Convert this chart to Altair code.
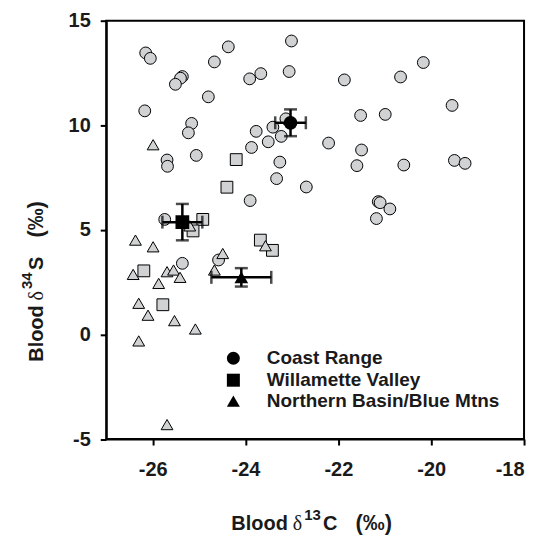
import altair as alt
import pandas as pd

groups = ["Coast Range", "Willamette Valley", "Northern Basin/Blue Mtns"]
shapes = ["circle", "square", "triangle-up"]

cr_x = [-26.15, -26.05, -24.37, -23.01, -24.67, -25.36, -25.40, -25.51, -23.91, -23.67,
        -23.06, -21.87, -20.66, -20.17, -24.80, -26.17, -21.52, -20.99, -19.55, -25.16,
        -25.23, -23.13, -23.41, -23.77, -23.23, -23.51, -23.87, -22.21, -21.50, -25.06,
        -25.69, -25.68, -23.26, -21.60, -20.59, -19.50, -19.27, -23.33, -22.69, -23.90,
        -21.14, -21.10, -20.89, -21.18, -25.74, -25.36, -24.58]
cr_y = [13.46, 13.20, 13.75, 14.03, 13.03, 12.33, 12.25, 11.96, 12.22, 12.47,
        12.57, 12.17, 12.31, 13.00, 11.36, 10.69, 10.47, 10.52, 10.95, 10.09,
        9.64, 10.31, 9.91, 9.71, 9.47, 9.21, 8.94, 9.15, 8.82, 8.56,
        8.34, 8.04, 8.24, 8.07, 8.10, 8.32, 8.18, 7.45, 7.05, 6.40,
        6.35, 6.30, 6.00, 5.54, 5.50, 3.40, 3.56]

wv_x = [-24.20, -24.40, -24.92, -25.13, -23.68, -23.42, -26.19, -25.78]
wv_y = [8.36, 7.04, 5.50, 4.95, 4.51, 4.02, 3.04, 1.42]

nb_x = [-25.99, -26.37, -25.99, -23.57, -24.49, -26.42, -25.69, -25.55, -25.41, -24.67,
        -25.87, -26.30, -26.10, -25.53, -25.08, -26.30, -25.69, -25.20]
nb_y = [9.07, 4.51, 4.19, 4.24, 3.87, 2.87, 3.00, 3.08, 2.73, 3.08,
        2.44, 1.49, 0.92, 0.66, 0.26, -0.31, -4.31, 5.19]

mean_x = [-23.03, -25.36, -24.09]
mean_y = [10.12, 5.37, 2.73]
sd_x = [0.33, 0.43, 0.645]
sd_y = [0.64, 0.87, 0.44]

x_ticks = [-26, -24, -22, -20, -18]
y_ticks = [-5, 0, 5, 10, 15]

# axis title pieces: word, delta, superscript, element, unit
x_title_parts = ["Blood", "δ", "13", "C", "(‰)"]
y_title_parts = ["Blood", "δ", "34", "S", "(‰)"]

rows = []
for g, xs, ys in zip(groups, [cr_x, wv_x, nb_x], [cr_y, wv_y, nb_y]):
    for a, b in zip(xs, ys):
        rows.append({"group": g, "x": a, "y": b})
pts = pd.DataFrame(rows)

means = pd.DataFrame({
    "group": groups, "x": mean_x, "y": mean_y,
    "xlo": [m - s for m, s in zip(mean_x, sd_x)],
    "xhi": [m + s for m, s in zip(mean_x, sd_x)],
    "ylo": [m - s for m, s in zip(mean_y, sd_y)],
    "yhi": [m + s for m, s in zip(mean_y, sd_y)],
})

FONT = "Liberation Sans"
SERIF = "Liberation Serif"
INK = "#1a1a1a"

xscale = alt.Scale(domain=[-27, -18], zero=False, nice=False)
yscale = alt.Scale(domain=[-5, 15], zero=False, nice=False)

xaxis = alt.Axis(values=x_ticks, title=None, labelPadding=15, labelExpr="'' + datum.value")
yaxis = alt.Axis(values=y_ticks, title=None, labelPadding=10, labelExpr="'' + datum.value")

shape_scale = alt.Scale(domain=groups, range=shapes)

points = alt.Chart(pts).mark_point(
    filled=True, fill="#d0d2d4", stroke="black", strokeWidth=1, size=140, opacity=1
).encode(
    x=alt.X("x:Q", scale=xscale, axis=xaxis),
    y=alt.Y("y:Q", scale=yscale, axis=yaxis),
    shape=alt.Shape("group:N", scale=shape_scale, legend=None),
)

ebar_v = alt.Chart(means).mark_errorbar(
    ticks={"size": 13, "thickness": 2.5, "color": "black"}, thickness=2.5, color="black"
).encode(
    x=alt.X("x:Q", scale=xscale, axis=xaxis),
    y=alt.Y("ylo:Q", scale=yscale, axis=yaxis),
    y2="yhi:Q",
)

ebar_h = alt.Chart(means).mark_errorbar(
    ticks={"size": 13, "thickness": 2.5, "color": "black"}, thickness=2.5, color="black"
).encode(
    y=alt.Y("y:Q", scale=yscale, axis=yaxis),
    x=alt.X("xlo:Q", scale=xscale, axis=xaxis),
    x2="xhi:Q",
)

mean_pts = alt.Chart(means).mark_point(
    filled=True, color="black", size=190, opacity=1
).encode(
    x=alt.X("x:Q", scale=xscale, axis=xaxis),
    y=alt.Y("y:Q", scale=yscale, axis=yaxis),
    shape=alt.Shape("group:N", scale=shape_scale,
                    legend=alt.Legend(title=None, orient="none", legendX=118, legendY=329,
                                      labelFont=FONT, labelFontSize=19, labelFontWeight="bold",
                                      labelColor=INK, symbolSize=170, labelLimit=400,
                                      symbolFillColor="black", symbolStrokeColor="black",
                                      labelOffset=24, rowPadding=1, padding=0)),
)

one = pd.DataFrame({"k": [0]})


def piece(text, px, py, size, font=FONT, weight="bold", angle=0):
    return alt.Chart(one).mark_text(
        text=text, font=font, fontSize=size, fontWeight=weight, color=INK,
        align="left", baseline="alphabetic", angle=angle
    ).encode(x=alt.value(px), y=alt.value(py))


# x title (relative to plot origin)
XB, XS = 511, 500.5
x_pieces = [
    piece(x_title_parts[0], 125.5, XB, 20),
    piece(x_title_parts[1], 187, XB, 20, font=SERIF, weight="normal"),
    piece(x_title_parts[2], 198.5, XS, 15),
    piece(x_title_parts[3], 217.5, XB, 20),
    piece(x_title_parts[4], 250, XB, 22),
]

# y title (rotated, reading upward)
YB, YS = -63.5, -74
y_pieces = [
    piece(y_title_parts[0], YB, 342, 20, angle=270),
    piece(y_title_parts[1], YB, 280.5, 20, font=SERIF, weight="normal", angle=270),
    piece(y_title_parts[2], YS, 269, 15, angle=270),
    piece(y_title_parts[3], YB, 250, 20, angle=270),
    piece(y_title_parts[4], YB, 217.5, 22, angle=270),
]

chart = alt.layer(points, ebar_v, ebar_h, mean_pts, *x_pieces, *y_pieces).resolve_scale(
    shape="independent"
).properties(
    width=419, height=419.5, autosize="none",
    padding={"left": 98.5, "top": 12, "right": 16, "bottom": 97},
).configure_view(
    stroke="black", strokeWidth=2
).configure_axis(
    grid=False, domainColor="black", domainWidth=2, tickColor="black", tickWidth=2,
    tickSize=6, labelFont=FONT, labelFontSize=20, labelFontWeight="bold",
    labelColor=INK
)

chart.save("out.html", embed_options={"renderer": "svg", "actions": False})
